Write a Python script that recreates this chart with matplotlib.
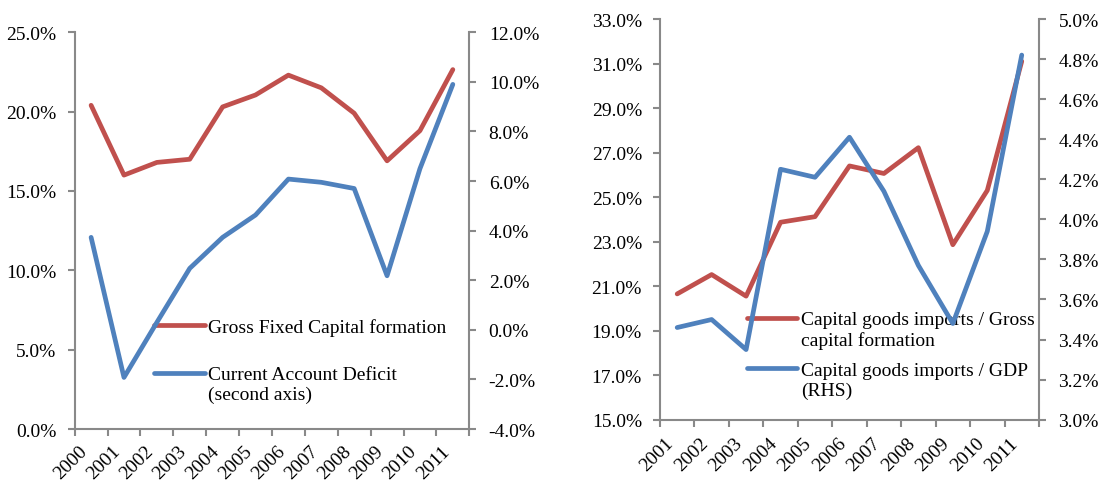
import matplotlib
matplotlib.use("Agg")
import matplotlib.pyplot as plt
from matplotlib.ticker import FuncFormatter, MultipleLocator, FixedLocator, NullFormatter
from matplotlib.legend_handler import HandlerLine2D

plt.rcParams["font.family"] = ["Liberation Serif", "DejaVu Serif"]
plt.rcParams["font.size"] = 14

RED = "#C0504D"
BLUE = "#4F81BD"
GREY = "#898989"

# left chart
years_a = ["2000", "2001", "2002", "2003", "2004", "2005",
           "2006", "2007", "2008", "2009", "2010", "2011"]
gfcf = [20.4, 16.0, 16.8, 17.0, 20.3, 21.05, 22.3, 21.5, 19.9, 16.9, 18.8, 22.65]
cad = [3.73, -1.92, 0.3, 2.48, 3.73, 4.63, 6.08, 5.95, 5.7, 2.18, 6.5, 9.9]

# right chart
years_b = ["2001", "2002", "2003", "2004", "2005", "2006",
           "2007", "2008", "2009", "2010", "2011"]
cg_gcf = [20.65, 21.52, 20.55, 23.87, 24.12, 26.4, 26.06, 27.22, 22.86, 25.3, 31.1]
cg_gdp = [3.46, 3.50, 3.35, 4.25, 4.21, 4.41, 4.14, 3.77, 3.48, 3.94, 4.82]

pct = FuncFormatter(lambda v, p: f"{v:.1f}%")


class FirstLineHandler(HandlerLine2D):
    # put the handle next to the first line of a two-line label
    def __init__(self, shift=0.0, **kw):
        super().__init__(**kw)
        self.shift = shift

    def create_artists(self, legend, orig_handle, xdescent, ydescent,
                       width, height, fontsize, trans):
        return super().create_artists(legend, orig_handle, xdescent,
                                      ydescent - 2 * self.shift * fontsize,
                                      width, height, fontsize, trans)


fig = plt.figure(figsize=(11.06, 4.81), dpi=100)


def style_axes(ax, ax2, years, xpad):
    n = len(years)
    ax.set_xlim(-0.5, n - 0.5)
    ax.set_xticks(range(n))
    ax.set_xticklabels(years, rotation=45, ha="right")
    ax.tick_params(axis="x", which="major", length=0, pad=xpad)
    ax.xaxis.set_minor_locator(FixedLocator([i - 0.5 for i in range(n + 1)]))
    ax.xaxis.set_minor_formatter(NullFormatter())
    ax.tick_params(axis="x", which="minor", length=5, width=1.5, color=GREY, direction="out")
    for a in (ax, ax2):
        a.spines["top"].set_visible(False)
        for s in ("left", "right", "bottom"):
            a.spines[s].set_color(GREY)
            a.spines[s].set_linewidth(1.5)
    ax.spines["right"].set_visible(False)
    ax2.spines["left"].set_visible(False)
    ax2.spines["bottom"].set_visible(False)
    ax.tick_params(axis="y", length=5, width=1.5, color=GREY, pad=8)
    ax2.tick_params(axis="y", length=5, width=1.5, color=GREY, pad=9)


# ---------------- LEFT ---------------- #
ax = fig.add_axes([0.0675, 0.106, 0.4243 - 0.0675, 0.9308 - 0.106])
ax2 = ax.twinx()
l1, = ax.plot(range(len(years_a)), gfcf, color=RED, lw=3.4, solid_capstyle="round",
              label="Gross Fixed Capital formation")
l2, = ax2.plot(range(len(years_a)), cad, color=BLUE, lw=3.4, solid_capstyle="round",
               label="Current Account Deficit\n(second axis)")
ax.set_ylim(0, 25)
ax.yaxis.set_major_locator(MultipleLocator(5))
ax.yaxis.set_major_formatter(pct)
ax2.set_ylim(-4, 12)
ax2.yaxis.set_major_locator(MultipleLocator(2))
ax2.yaxis.set_major_formatter(pct)
style_axes(ax, ax2, years_a, 9.5)
ax.legend([l1, l2], [l1.get_label(), l2.get_label()], loc="upper left",
          bbox_to_anchor=(0.1392, 0.3372), bbox_transform=fig.transFigure,
          frameon=False, borderpad=0, borderaxespad=0, handlelength=2.6,
          handletextpad=0.2, labelspacing=1.56,
          handler_map={l2: FirstLineHandler(shift=0.6)})

# ---------------- RIGHT ---------------- #
bx = fig.add_axes([0.5967, 0.1254, 0.9394 - 0.5967, 0.9584 - 0.1254])
bx2 = bx.twinx()
m1, = bx.plot(range(len(years_b)), cg_gcf, color=RED, lw=3.4, solid_capstyle="round",
              label="Capital goods imports / Gross\ncapital formation")
m2, = bx2.plot(range(len(years_b)), cg_gdp, color=BLUE, lw=3.4, solid_capstyle="round",
               label="Capital goods imports / GDP\n(RHS)")
bx.set_ylim(15, 33)
bx.yaxis.set_major_locator(FixedLocator(range(15, 34, 2)))
bx.yaxis.set_major_formatter(pct)
bx2.set_ylim(3.0, 5.0)
bx2.yaxis.set_major_locator(MultipleLocator(0.2))
bx2.yaxis.set_major_formatter(pct)
style_axes(bx, bx2, years_b, 10.5)
bx.legend([m1, m2], [m1.get_label(), m2.get_label()], loc="upper left",
          bbox_to_anchor=(0.675, 0.351), bbox_transform=fig.transFigure,
          frameon=False, borderpad=0, borderaxespad=0, handlelength=2.6,
          handletextpad=0.2, labelspacing=0.66,
          handler_map={m1: FirstLineHandler(shift=0.6),
                       m2: FirstLineHandler(shift=0.6)})

fig.savefig("out.png", dpi=100)
